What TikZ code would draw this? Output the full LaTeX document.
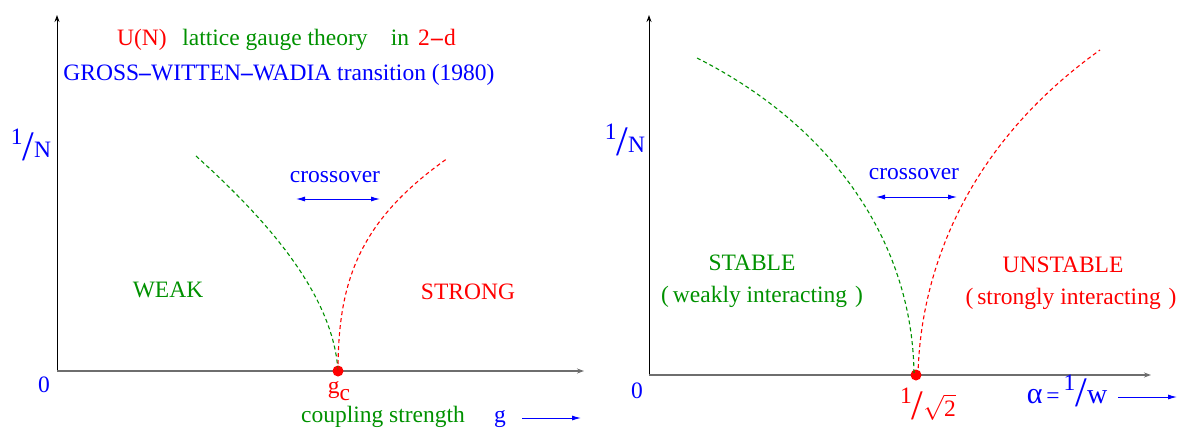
\documentclass[tikz,border=0pt]{standalone}
\usepackage{xcolor}
\usepackage{fontspec}
\setmainfont{Liberation Serif}
\usetikzlibrary{arrows.meta}

\definecolor{phred}{RGB}{255,0,0}
\definecolor{phgreen}{RGB}{0,145,0}
\definecolor{phblue}{RGB}{0,0,255}
\definecolor{axgray}{RGB}{110,110,110}

% raised numerator, big slash, denominator
\newcommand{\ovr}[2]{\raisebox{0.55em}{#1}{\fontsize{42}{42}\selectfont\raisebox{-0.08em}{/}}#2}

\begin{document}
\begin{tikzpicture}[
    x=1pt,y=-1pt,
    lbl/.style={anchor=base,inner sep=0pt,font=\fontsize{23.5}{28}\selectfont},
    yaxis/.style={-{Stealth[length=7pt,width=5pt]},black,line width=0.9pt},
    xaxis/.style={-{Stealth[length=7pt,width=5pt]},axgray,line width=1.4pt},
    border/.style={dashed,dash pattern=on 4pt off 3pt,line width=1.1pt},
    blarrow/.style={-{Latex[length=9pt,width=5pt]},phblue,line width=1pt},
    dot/.style={circle,fill=phred,inner sep=0pt,minimum size=11pt}
]
\useasboundingbox (0,0) rectangle (1178,429);

% left panel
\coordinate (o1) at (57,371);
\coordinate (ytop1) at (57,15);
\coordinate (xend1) at (584,371);
\draw[yaxis] (o1) -- (ytop1);
\draw[xaxis] (o1) -- (xend1);

\node[lbl,text=phred] (un) at (142,45) {U(N)};
\node[lbl,text=phgreen] (lgt) at (275,45) {lattice gauge theory};
\node[lbl,text=phgreen] (in) at (400,45) {in};
\node[lbl,text=phred] (twod) at (437,45) {2\kern0.05em\textbf{--}\kern0.05em d};
\node[lbl,text=phblue] (gww) at (279,80) {GROSS\textbf{--}WITTEN\textbf{--}WADIA transition (1980)};

\node[lbl,text=phblue] (invn1) at (31,157) {\ovr{1}{N}};
\node[lbl,text=phblue] (zero1) at (44,392) {0};
\node[lbl,text=phgreen] (weak) at (168,297) {WEAK};
\node[lbl,text=phred] (strong) at (468,299) {STRONG};

\node[dot] (gcdot) at (338,371) {};
\draw[border,phgreen] (196,156) .. controls (258,212) and (333,290) .. (gcdot.center);
\draw[border,phred] (gcdot.center) .. controls (338,280) and (360,220) .. (448,158);

\node[lbl,text=phblue] (cross1) at (335,182) {crossover};
\coordinate (ca1) at (296,199);
\coordinate (cb1) at (380,199);
\draw[blarrow,{Latex[length=9pt,width=5pt]}-{Latex[length=9pt,width=5pt]}] (ca1) -- (cb1);

\node[lbl,text=phred] (gc) at (339,393) {g\raisebox{-0.3em}{c}};
\node[lbl,text=phgreen] (coupl) at (383,422) {coupling strength};
\node[lbl,text=phblue] (g) at (500,422) {g};
\coordinate (ga) at (522,418);
\coordinate (gb) at (581,418);
\draw[blarrow] (ga) -- (gb);

% right panel
\coordinate (o2) at (649,375);
\coordinate (ytop2) at (649,15);
\coordinate (xend2) at (1151,375);
\draw[yaxis] (o2) -- (ytop2);
\draw[xaxis] (o2) -- (xend2);

\node[lbl,text=phblue] (invn2) at (625,152) {\ovr{1}{N}};
\node[lbl,text=phblue] (zero2) at (637,398) {0};
\node[lbl,text=phgreen] (stable) at (752,270) {STABLE};
\node[lbl,text=phgreen] (weakly) at (762,302) {(\,weakly interacting\,\,)};
\node[lbl,text=phred] (unstable) at (1063,272) {UNSTABLE};
\node[lbl,text=phred] (strongly) at (1071,304) {(\,strongly interacting\,\,)};

\node[dot] (crdot) at (916,375) {};
\draw[border,phgreen] (697,58) .. controls (830,125) and (913,240) .. ([xshift=-2pt]crdot.center);
\draw[border,phred] ([xshift=2pt]crdot.center) .. controls (920,280) and (960,150) .. (1100,50);

\node[lbl,text=phblue] (cross2) at (914,179) {crossover};
\coordinate (ca2) at (876,197);
\coordinate (cb2) at (957,197);
\draw[blarrow,{Latex[length=9pt,width=5pt]}-{Latex[length=9pt,width=5pt]}] (ca2) -- (cb2);

\node[lbl,text=phred] (rsq) at (928,416) {\ovr{1}{$\sqrt{\mbox{2}}$}};
\node[lbl,text=phblue] (alpha) at (1067,403) {{\fontsize{30}{30}\selectfont α}\,=\,\ovr{1}{{\fontsize{28}{28}\selectfont w}}};
\coordinate (aa) at (1118,397);
\coordinate (ab) at (1177,397);
\draw[blarrow] (aa) -- (ab);
\end{tikzpicture}
\end{document}
